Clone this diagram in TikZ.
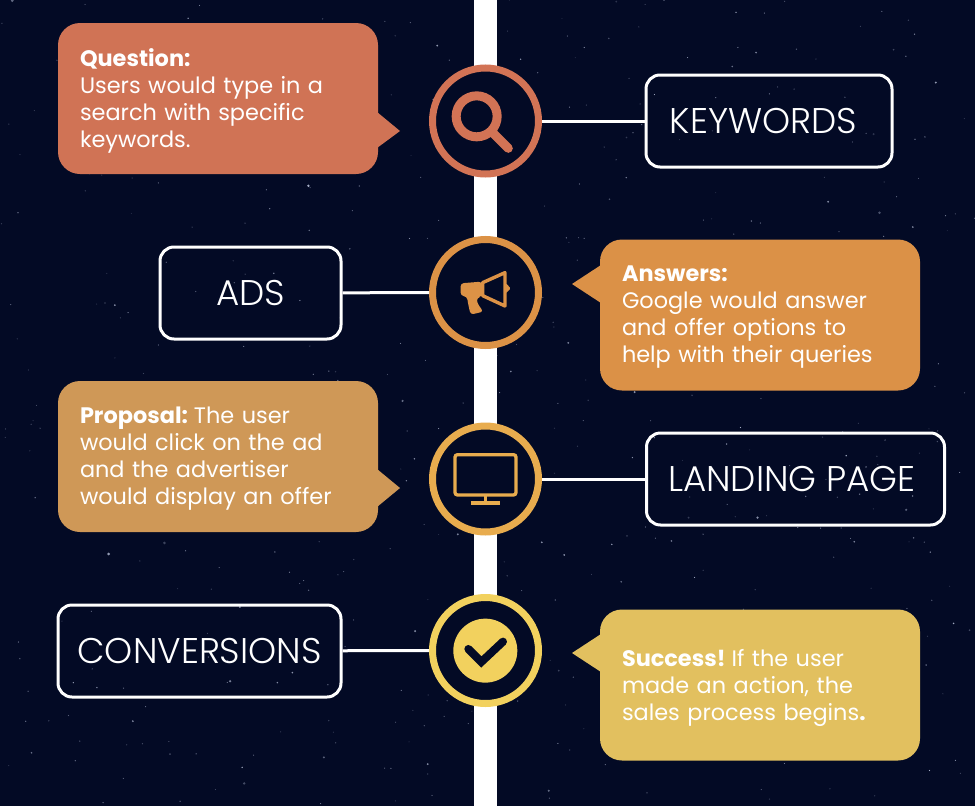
\documentclass[tikz,border=0pt]{standalone}
\usepackage{fontspec}
\setmainfont{Poppins}
\newfontfamily\lightfont{Poppins Light}
\definecolor{bgc}{HTML}{030A25}
\definecolor{starc}{HTML}{B8C0D8}
\definecolor{cA}{HTML}{D27355}
\definecolor{cB}{HTML}{DC9246}
\definecolor{cC}{HTML}{E8AC4E}
\definecolor{cD}{HTML}{F2D15E}
\definecolor{bA}{HTML}{D07355}
\definecolor{bB}{HTML}{DB9147}
\definecolor{bC}{HTML}{CF9857}
\definecolor{bD}{HTML}{E2C05F}
\tikzset{
  x=1pt,y=-1pt,
  bubble/.style={rounded corners=22pt,minimum width=320pt,minimum height=151pt,inner sep=0pt},
  bubbletext/.style={inner sep=0pt,text width=276pt,align=left,text=white,yshift=-2.5pt,
    font=\fontsize{22.4}{27}\selectfont},
  labelbox/.style={draw=white,line width=3pt,rounded corners=14pt,minimum height=92pt,inner sep=0pt,text=white,
    font=\lightfont\fontsize{35.7}{40}\selectfont},
  hub/.style={circle,draw=#1,line width=7pt,fill=bgc,minimum size=106pt,inner sep=0pt},
  link/.style={draw=white,line width=3pt}
}
\begin{document}
\begin{tikzpicture}
\useasboundingbox (0,0) rectangle (975,806);
\fill[bgc] (0,0) rectangle (975,806);
\pgfmathsetseed{4217}
\foreach \i in {1,...,560}{
  \pgfmathsetmacro{\sx}{rnd*975}
  \pgfmathsetmacro{\sy}{rnd*806}
  \pgfmathsetmacro{\sr}{0.5+1.2*rnd*rnd*rnd}
  \pgfmathsetmacro{\so}{20+70*rnd}
  \fill[starc,opacity=\so/100] (\sx,\sy) circle[radius=\sr];
}
\fill[white] (473.7,0) rectangle (497,806);

\node[hub=cA] (h1) at (485.5,121) {};
\node[hub=cB] (h2) at (485.5,292.5) {};
\node[hub=cC] (h3) at (485.5,479) {};
\node[hub=cD] (h4) at (485.5,650.5) {};

\node[labelbox,minimum width=246pt] (keywords) at (769,121) {\hspace*{-11pt}KEYWORDS};
\node[labelbox,minimum width=181pt] (ads) at (250.5,293) {ADS};
\node[labelbox,minimum width=298pt] (landing) at (795.5,479) {\hspace*{-7pt}LANDING PAGE};
\node[labelbox,minimum width=283pt] (conv) at (199.5,651) {CONVERSIONS};

\draw[link] (h1) -- (keywords);
\draw[link] (ads) -- (h2);
\draw[link] (h3) -- (landing);
\draw[link] (conv) -- (h4);

% speech bubbles
\fill[bA] (377,112) -- (400,131) -- (377,148) -- cycle;
\node[bubble,fill=bA] (q) at (218,98.5) {};
\node[bubbletext] (qt) at (q.center) {\textbf{Question:}\\Users would type in a\\search with specific\\keywords.};
\fill[bB] (601,265) -- (572,284) -- (601,303) -- cycle;
\node[bubble,fill=bB] (a) at (760,315) {};
\node[bubbletext] (at) at (a.center) {\textbf{Answers:}\\Google would answer\\and offer options to\\help with their queries};
\fill[bC] (377,469) -- (400,488) -- (377,507) -- cycle;
\node[bubble,fill=bC] (p) at (218,456.5) {};
\node[bubbletext] (pt) at (p.center) {\textbf{Proposal:}\hspace{6pt}The user\\would click on the ad\\and the advertiser\\would display an offer};
\fill[bD] (601,634) -- (572,653) -- (601,672) -- cycle;
\node[bubble,fill=bD] (s) at (760,685) {};
\node[bubbletext] (st) at (s.center) {\textbf{Success!}\hspace{6pt}If the user\\made an action, the\\sales process begins\textbf{.}};

% magnifier
\begin{scope}[shift={(420,50)},x=0.3333pt,y=-0.3333pt]
  \draw[cA,line width=9pt] (170,199) circle[radius=61.5];
  \draw[cA,line width=9pt,line cap=round] (222,252) -- (265,295);
  % megaphone
  \fill[cB,rounded corners=3pt] (122,700) -- (185,695) -- (185,740) -- (170,744) -- (172,760) -- (190,785) -- (152,794) -- (145,765) -- (141,740) -- (122,737) -- cycle;
  \draw[cB,line width=3.4pt,line join=round] (188,698) -- (255,668) -- (255,768) -- (188,737) -- cycle;
  \fill[cB,rounded corners=1pt] (258,700) -- (272,715) -- (258,730) -- cycle;
\end{scope}
% monitor and check
\begin{scope}[shift={(420,410)},x=0.3333pt,y=-0.3333pt]
  \draw[cC,line width=3.3pt,rounded corners=2.5pt] (105,134) rectangle (288,255);
  \draw[cC,line width=3.3pt] (196,255) -- (196,279);
  \draw[cC,line width=4.4pt] (152,279) -- (241,279);
  \fill[cD] (196,722) circle[radius=96];
  \draw[bgc,line width=8pt,line cap=round,line join=miter] (145,717) -- (184,756) -- (249,695);
\end{scope}
\end{tikzpicture}
\end{document}
